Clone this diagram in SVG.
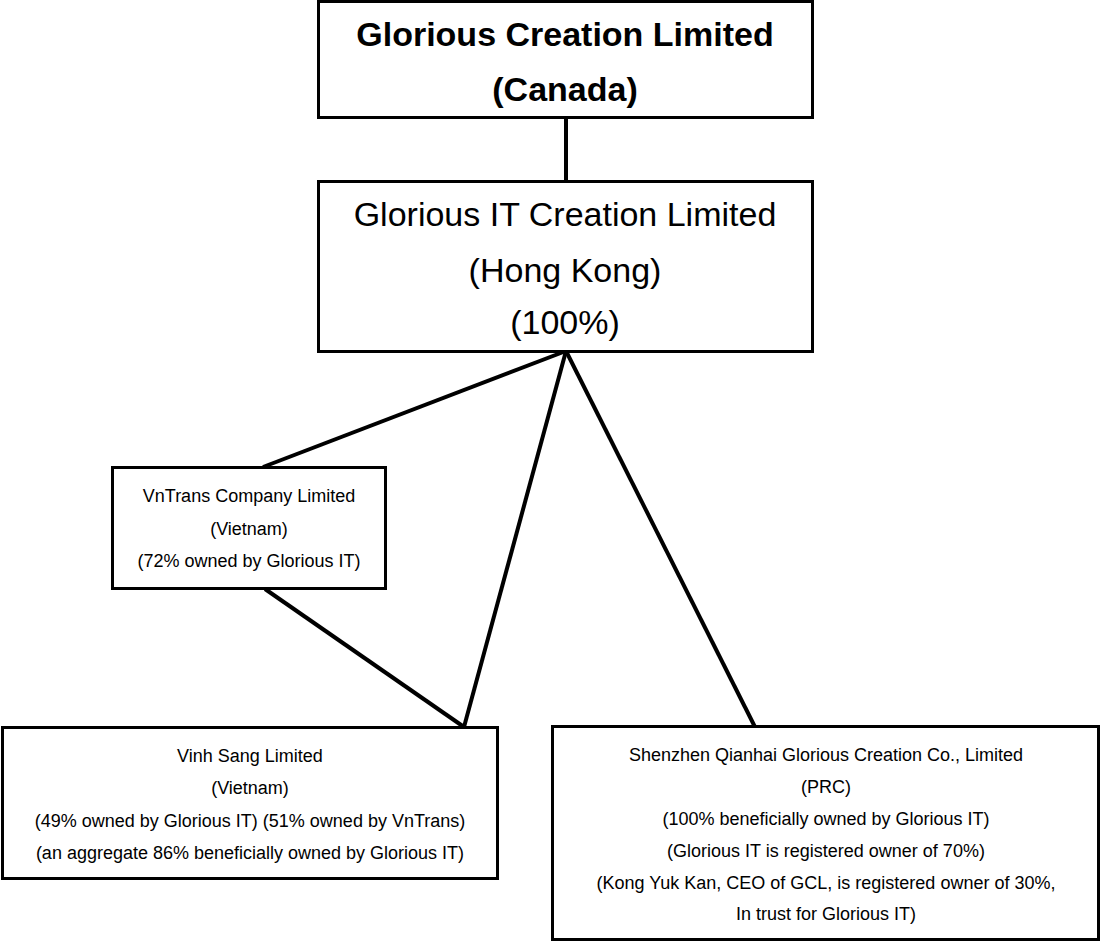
<svg xmlns="http://www.w3.org/2000/svg" width="1104" height="943" viewBox="0 0 1104 943">
<style>
.box{fill:#fff;stroke:#000;stroke-width:3}
.ln{stroke:#000;stroke-width:4;fill:none}
text{font-family:"Liberation Sans",Arial,sans-serif;fill:#000;text-anchor:middle}
.t1{font-size:34px;font-weight:bold}
.t2{font-size:34px}
.s{font-size:18px}
</style>
<rect width="1104" height="943" fill="#fff"/>
<g id="connectors">
<line class="ln" x1="566" y1="117" x2="566" y2="180"/>
<line class="ln" x1="566" y1="351" x2="263" y2="467"/>
<line class="ln" x1="566" y1="351" x2="464" y2="727"/>
<line class="ln" x1="566" y1="351" x2="755" y2="727"/>
<line class="ln" x1="265" y1="589" x2="464" y2="727"/>
</g>
<g id="gcl">
<rect class="box" x="318.5" y="1.5" width="494" height="116"/>
<text class="t1" x="565" y="46">Glorious Creation Limited</text>
<text class="t1" x="565" y="101">(Canada)</text>
</g>
<g id="git">
<rect class="box" x="318.5" y="181.5" width="494" height="170"/>
<text class="t2" x="565" y="226">Glorious IT Creation Limited</text>
<text class="t2" x="565" y="282">(Hong Kong)</text>
<text class="t2" x="565" y="334">(100%)</text>
</g>
<g id="vntrans">
<rect class="box" x="112.5" y="467.5" width="273" height="121"/>
<text class="s" x="249" y="502">VnTrans Company Limited</text>
<text class="s" x="249" y="535">(Vietnam)</text>
<text class="s" x="249" y="567">(72% owned by Glorious IT)</text>
</g>
<g id="vinhsang">
<rect class="box" x="2.5" y="727.5" width="495" height="151"/>
<text class="s" x="250" y="762">Vinh Sang Limited</text>
<text class="s" x="250" y="794">(Vietnam)</text>
<text class="s" x="250" y="827">(49% owned by Glorious IT) (51% owned by VnTrans)</text>
<text class="s" x="250" y="859">(an aggregate 86% beneficially owned by Glorious IT)</text>
</g>
<g id="shenzhen">
<rect class="box" x="552.5" y="726.5" width="546" height="213"/>
<text class="s" x="826" y="761">Shenzhen Qianhai Glorious Creation Co., Limited</text>
<text class="s" x="826" y="793">(PRC)</text>
<text class="s" x="826" y="825">(100% beneficially owned by Glorious IT)</text>
<text class="s" x="826" y="857">(Glorious IT is registered owner of 70%)</text>
<text class="s" x="826" y="889">(Kong Yuk Kan, CEO of GCL, is registered owner of 30%,</text>
<text class="s" x="826" y="920">In trust for Glorious IT)</text>
</g>
</svg>
